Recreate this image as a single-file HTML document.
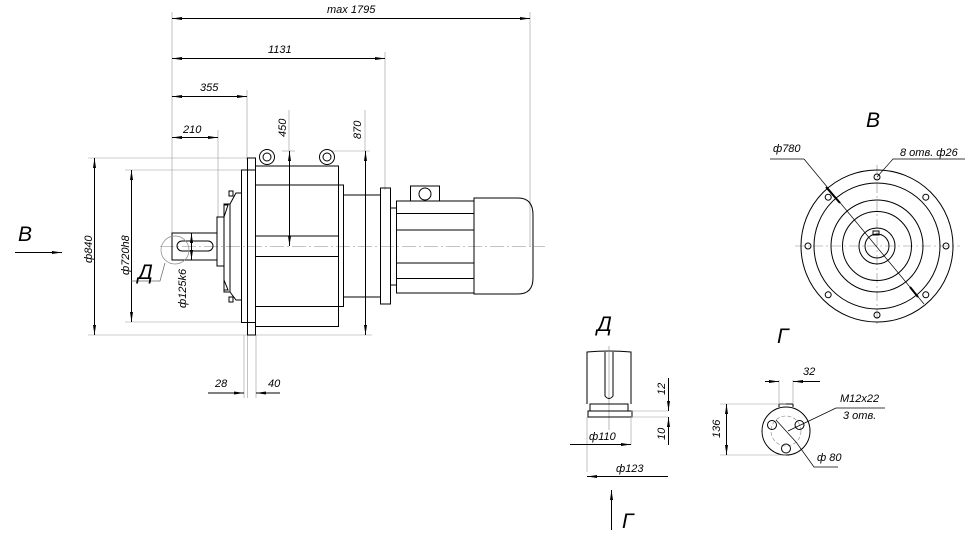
<!DOCTYPE html>
<html><head><meta charset="utf-8"><style>
html,body{margin:0;padding:0;background:#fff}
svg{display:block}
text{font-family:"Liberation Sans",sans-serif;font-style:italic;fill:#000}
</style></head><body>
<svg width="980" height="541" viewBox="0 0 980 541" xmlns="http://www.w3.org/2000/svg">
<defs>
<marker id="a" viewBox="0 0 10 4" refX="10" refY="2" markerWidth="10" markerHeight="4" orient="auto-start-reverse" markerUnits="userSpaceOnUse"><path d="M0,0.5 L10,2 L0,3.5z" fill="#000"/></marker>
</defs>
<g fill="none" stroke="#000" stroke-width="1">
<!-- centerline -->
<line x1="160" y1="246.5" x2="545" y2="246.5" stroke="#888" stroke-width="0.6" stroke-dasharray="14 3 2 3"/>
<!-- extension lines -->
<g stroke="#999" stroke-width="0.6">
<line x1="172" y1="12" x2="172" y2="260"/>
<line x1="530" y1="12" x2="530" y2="246"/>
<line x1="385" y1="52" x2="385" y2="190"/>
<line x1="247" y1="90" x2="247" y2="160"/>
<line x1="218" y1="130" x2="218" y2="218"/>
<line x1="88" y1="158" x2="250" y2="158"/>
<line x1="88" y1="335" x2="372" y2="335"/>
<line x1="125" y1="170" x2="242" y2="170"/>
<line x1="125" y1="322" x2="242" y2="322"/>
<line x1="282" y1="151" x2="295" y2="151"/>
<line x1="332" y1="151" x2="370" y2="151"/>
<line x1="289" y1="110" x2="289" y2="151"/>
<line x1="365" y1="110" x2="365" y2="151"/>
<line x1="244" y1="335" x2="244" y2="398"/>
<line x1="247.5" y1="335" x2="247.5" y2="398"/>
<line x1="256" y1="335" x2="256" y2="398"/>
</g>
<!-- dimension lines -->
<line x1="172" y1="18.5" x2="530" y2="18.5" marker-start="url(#a)" marker-end="url(#a)"/>
<line x1="172" y1="58.5" x2="385" y2="58.5" marker-start="url(#a)" marker-end="url(#a)"/>
<line x1="172" y1="96.5" x2="247" y2="96.5" marker-start="url(#a)" marker-end="url(#a)"/>
<line x1="172" y1="137.5" x2="218" y2="137.5" marker-start="url(#a)" marker-end="url(#a)"/>
<line x1="289.5" y1="151" x2="289.5" y2="246" marker-start="url(#a)" marker-end="url(#a)"/>
<line x1="365.5" y1="151" x2="365.5" y2="335" marker-start="url(#a)" marker-end="url(#a)"/>
<line x1="94.5" y1="158" x2="94.5" y2="335" marker-start="url(#a)" marker-end="url(#a)"/>
<line x1="131.5" y1="170" x2="131.5" y2="322" marker-start="url(#a)" marker-end="url(#a)"/>
<line x1="191.5" y1="233" x2="191.5" y2="260" marker-start="url(#a)" marker-end="url(#a)"/>
<line x1="208" y1="393" x2="244" y2="393" marker-end="url(#a)"/>
<line x1="256" y1="393" x2="280" y2="393" marker-start="url(#a)"/>
<!-- B arrow -->
<line x1="15" y1="252.5" x2="62" y2="252.5" marker-end="url(#a)"/>
<!-- shaft & left parts -->
<rect x="172" y="233" width="45" height="27"/>
<rect x="177" y="241" width="36" height="10" rx="5"/>
<circle cx="175" cy="250" r="14" stroke="#888" stroke-width="0.7"/>
<polyline points="165,263 160,281 131,281" stroke="#666" stroke-width="0.7"/>
<rect x="217" y="217" width="7" height="49"/>
<path d="M224,217 L228,205 L224,205 L224,290 L228,290 L224,280"/>
<rect x="224" y="204" width="6" height="88"/>
<path d="M230,204 L236,193 L242,193 M230,292 L236,300 L242,300"/>
<rect x="229" y="191" width="4" height="5"/>
<rect x="229" y="297" width="4" height="5"/>
<rect x="241.5" y="170" width="14" height="152.5"/>
<rect x="247.5" y="158" width="8" height="177"/>
<!-- housing -->
<rect x="255.5" y="166" width="83" height="160.5"/>
<rect x="255.5" y="185" width="88" height="121.5"/>
<line x1="255.5" y1="236" x2="338.5" y2="236"/>
<line x1="255.5" y1="256.5" x2="338.5" y2="256.5"/>
<circle cx="267" cy="157" r="7.5"/><circle cx="267" cy="157" r="4"/>
<circle cx="327" cy="157" r="7.5"/><circle cx="327" cy="157" r="4"/>
<rect x="343.5" y="195" width="37" height="102"/>
<rect x="380.5" y="188" width="10" height="116"/>
<rect x="390.5" y="208" width="6" height="77"/>
<!-- motor -->
<rect x="396.5" y="201" width="77.5" height="92"/>
<line x1="396.5" y1="213.5" x2="474" y2="213.5"/>
<line x1="396.5" y1="230" x2="474" y2="230"/>
<line x1="396.5" y1="263" x2="474" y2="263"/>
<line x1="396.5" y1="278.5" x2="474" y2="278.5"/>
<rect x="410.5" y="186" width="29" height="15"/>
<circle cx="425" cy="194" r="6"/>
<path d="M474,198 L518,198 Q533,198 533,215 L533,278 Q533,294 518,294 L474,294 Z"/>
<!-- view B -->
<g stroke="#888" stroke-width="0.6" stroke-dasharray="10 3 2 3">
<line x1="795" y1="246" x2="960" y2="246"/>
<line x1="877" y1="165" x2="877" y2="327"/>
</g>
<circle cx="877" cy="246" r="76"/>
<circle cx="877" cy="246" r="63"/>
<circle cx="877" cy="246" r="46"/>
<circle cx="877" cy="246" r="34.5"/>
<circle cx="877" cy="246" r="18"/>
<circle cx="877" cy="246" r="12"/>
<rect x="873" y="231" width="6" height="4"/>
<circle cx="877" cy="246" r="69" stroke="none"/>
<g>
<circle cx="946" cy="246" r="3"/><circle cx="808" cy="246" r="3"/>
<circle cx="877" cy="177" r="3"/><circle cx="877" cy="315" r="3"/>
<circle cx="925.8" cy="197.2" r="3"/><circle cx="828.2" cy="197.2" r="3"/>
<circle cx="925.8" cy="294.8" r="3"/><circle cx="828.2" cy="294.8" r="3"/>
</g>
<line x1="770" y1="159" x2="804" y2="159" stroke-width="0.7"/>
<line x1="804" y1="159" x2="924" y2="304" stroke-width="0.7"/>
<line x1="826" y1="187" x2="840" y2="203" stroke-width="2"/>
<line x1="910" y1="287" x2="918" y2="297" stroke-width="2"/>
<polyline points="877,177 893,159 965,159" stroke-width="0.7"/>
<!-- view Д -->
<path d="M587,404 L587,352 Q609,350 631,352 L631,404"/>
<line x1="609" y1="346" x2="609" y2="430" stroke="#888" stroke-width="0.6"/>
<path d="M605,352 L605,396 Q609,401 613,396 L613,352"/>
<rect x="590" y="404" width="38" height="7"/>
<rect x="588" y="411" width="44" height="6"/>
<g stroke="#999" stroke-width="0.6">
<line x1="631" y1="411" x2="668" y2="411"/>
<line x1="631" y1="417" x2="668" y2="417"/>
<line x1="587" y1="417" x2="587" y2="472"/>
<line x1="631" y1="417" x2="631" y2="445"/>
</g>
<line x1="668.5" y1="378" x2="668.5" y2="411" marker-end="url(#a)"/>
<line x1="668.5" y1="417" x2="668.5" y2="445" marker-start="url(#a)"/>
<line x1="570" y1="444.5" x2="631" y2="444.5" marker-end="url(#a)"/>
<line x1="587" y1="476.5" x2="668" y2="476.5" marker-start="url(#a)"/>
<line x1="611.5" y1="530" x2="611.5" y2="490" marker-end="url(#a)"/>
<!-- view Г -->
<circle cx="786" cy="431" r="24"/>
<circle cx="786" cy="431" r="15" stroke="#888" stroke-width="0.6" stroke-dasharray="4 2"/>
<line x1="779" y1="404" x2="779" y2="407"/><line x1="793" y1="404" x2="793" y2="407"/><line x1="779" y1="404" x2="793" y2="404"/>
<circle cx="772" cy="425" r="4.5"/><circle cx="799.5" cy="425" r="4.5"/><circle cx="786" cy="448.5" r="4.5"/>
<g stroke="#999" stroke-width="0.6">
<line x1="720" y1="404" x2="786" y2="404"/>
<line x1="720" y1="455" x2="786" y2="455"/>
<line x1="779" y1="380" x2="779" y2="404"/>
<line x1="793" y1="380" x2="793" y2="404"/>
</g>
<line x1="726.5" y1="404" x2="726.5" y2="455" marker-start="url(#a)" marker-end="url(#a)"/>
<line x1="765" y1="381.5" x2="779" y2="381.5" marker-end="url(#a)"/>
<line x1="793" y1="381.5" x2="820" y2="381.5" marker-start="url(#a)"/>
<polyline points="885,408 836,408 788,431" stroke-width="0.7"/>
<line x1="776" y1="420" x2="796" y2="442" stroke-width="0.7"/>
<polyline points="796,442 814,467 838,467" stroke-width="0.7"/>
</g>
<!-- labels -->
<g font-size="11">
<text x="327" y="13">max 1795</text>
<text x="268" y="53">1131</text>
<text x="200" y="91">355</text>
<text x="183" y="133">210</text>
<text transform="translate(286,137) rotate(-90)">450</text>
<text transform="translate(361,139) rotate(-90)">870</text>
<text transform="translate(92,263) rotate(-90)">ф840</text>
<text transform="translate(129,275) rotate(-90)">ф720h8</text>
<text transform="translate(186,308) rotate(-90)">ф125k6</text>
<text x="215" y="387">28</text>
<text x="268" y="387">40</text>
<text x="773" y="152">ф780</text>
<text x="900" y="156">8 отв. ф26</text>
<text x="589" y="440">ф110</text>
<text x="616" y="472">ф123</text>
<text transform="translate(665,395) rotate(-90)">12</text>
<text transform="translate(665,440) rotate(-90)">10</text>
<text transform="translate(720,438) rotate(-90)">136</text>
<text x="803" y="375">32</text>
<text x="840" y="402">M12x22</text>
<text x="843" y="419">3 отв.</text>
<text x="817" y="461">ф 80</text>
</g>
<g font-size="21">
<text x="18" y="241">B</text>
<text x="866" y="127">B</text>
<text x="138" y="279">Д</text>
<text x="597" y="331">Д</text>
<text x="777" y="343">Г</text>
<text x="622" y="528">Г</text>
</g>
</svg>
</body></html>
